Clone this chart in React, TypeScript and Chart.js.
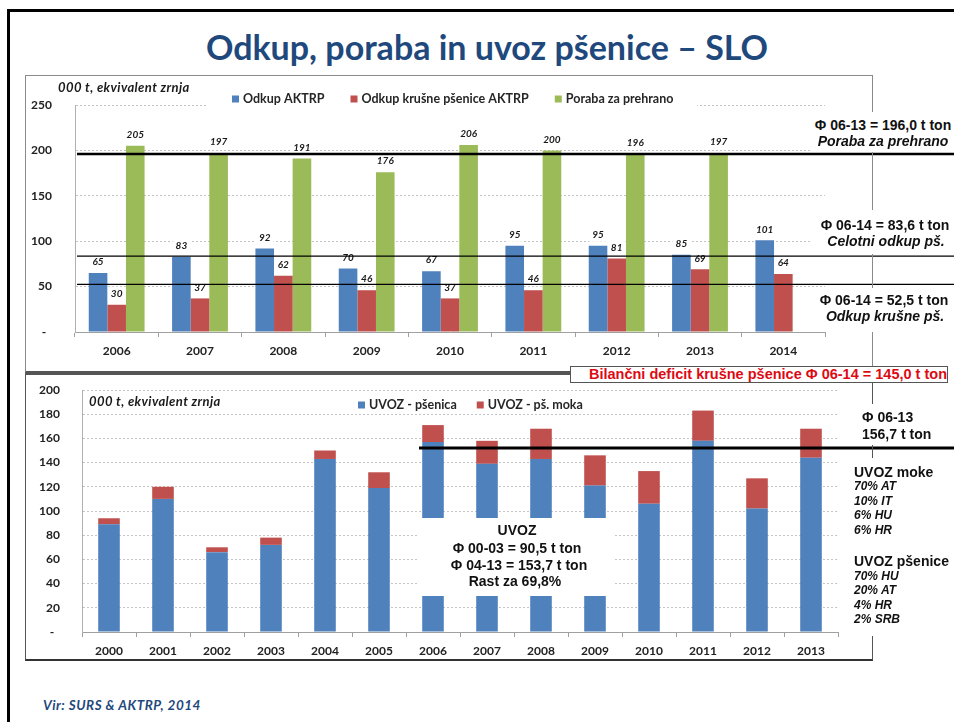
import React, { useEffect, useRef } from 'react';
import { Chart, registerables } from 'chart.js';

Chart.register(...registerables);

// ---------- DATA ----------
const TOP_YEARS = ['2006', '2007', '2008', '2009', '2010', '2011', '2012', '2013', '2014'];
const ODKUP_AKTRP = [65, 83, 92, 70, 67, 95, 95, 85, 101];
const ODKUP_KRUSNE = [30, 37, 62, 46, 37, 46, 81, 69, 64];
const PORABA = [205, 197, 191, 176, 206, 200, 196, 197, null];
const TOP_REF_LINES = [196.0, 83.6, 52.5];

const BOTTOM_YEARS = ['2000', '2001', '2002', '2003', '2004', '2005', '2006', '2007', '2008', '2009', '2010', '2011', '2012', '2013'];
const UVOZ_PSENICA = [89, 110, 66, 72, 143, 119, 157, 139, 143, 121, 106, 158, 102, 144];
const UVOZ_MOKA = [5, 10, 4, 6, 7, 13, 14, 19, 25, 25, 27, 25, 25, 24];
const BOTTOM_REF_LINE = 152;
const BOTTOM_REF_START_INDEX = 6;

const BLUE = '#4F81BD';
const RED = '#C0504D';
const GREEN = '#9BBB59';
const TICK_FONT = { family: 'Lato', size: 12, weight: 'bold' as const };

function drawLegend(chart: any, x0: number, yc: number, gap: number) {
  const ctx = chart.ctx;
  ctx.save();
  ctx.font = 'bold 12.5px Lato';
  ctx.textBaseline = 'middle';
  ctx.textAlign = 'left';
  let x = x0;
  chart.data.datasets.forEach((ds: any) => {
    ctx.fillStyle = ds.backgroundColor;
    ctx.fillRect(x, yc - 3.5, 7, 7);
    x += 11;
    ctx.fillStyle = '#262626';
    ctx.fillText(ds.label, x, yc);
    x += ctx.measureText(ds.label).width + gap;
  });
  ctx.restore();
}

const topPlugin = {
  id: 'topExtras',
  afterDatasetsDraw(chart: any) {
    const ctx = chart.ctx;
    ctx.save();
    ctx.font = 'italic bold 10px Lato';
    ctx.textAlign = 'center';
    ctx.textBaseline = 'middle';
    chart.data.datasets.forEach((ds: any, di: number) => {
      const meta = chart.getDatasetMeta(di);
      meta.data.forEach((bar: any, i: number) => {
        const v = ds.data[i];
        if (v == null) return;
        const txt = String(v);
        const w = ctx.measureText(txt).width;
        const x = bar.x;
        const y = bar.y - 11;
        ctx.fillStyle = '#fff';
        ctx.fillRect(x - w / 2 - 3, y - 7, w + 6, 14);
        ctx.fillStyle = '#1a1a1a';
        ctx.fillText(txt, x, y);
      });
    });
    const ys = chart.scales.y;
    TOP_REF_LINES.forEach((v, k) => {
      const y = ys.getPixelForValue(v);
      ctx.beginPath();
      ctx.lineWidth = k === 0 ? 2.5 : 1.4;
      ctx.strokeStyle = '#000';
      ctx.moveTo(chart.chartArea.left + 2, y);
      ctx.lineTo(chart.width, y);
      ctx.stroke();
    });
    ctx.restore();
  },
  afterDraw(chart: any) {
    const ctx = chart.ctx;
    ctx.save();
    ctx.fillStyle = '#fff';
    ctx.fillRect(182, 15, 490, 20);
    ctx.restore();
    drawLegend(chart, 207, 24, 26);
  },
};

const bottomPlugin = {
  id: 'bottomExtras',
  afterDatasetsDraw(chart: any) {
    const ctx = chart.ctx;
    const xs = chart.scales.x;
    const ys = chart.scales.y;
    const y = ys.getPixelForValue(BOTTOM_REF_LINE);
    ctx.save();
    ctx.beginPath();
    ctx.lineWidth = 3;
    ctx.strokeStyle = '#000';
    ctx.moveTo(xs.getPixelForValue(BOTTOM_REF_START_INDEX) - 14, y);
    ctx.lineTo(chart.width, y);
    ctx.stroke();
    ctx.restore();
  },
  afterDraw(chart: any) {
    drawLegend(chart, 333, 31, 20);
  },
};

function TopChart() {
  const ref = useRef<HTMLCanvasElement>(null);
  useEffect(() => {
    const chart = new Chart(ref.current!, {
      type: 'bar',
      data: {
        labels: TOP_YEARS,
        datasets: [
          { label: 'Odkup AKTRP', data: ODKUP_AKTRP, backgroundColor: BLUE },
          { label: 'Odkup krušne pšenice AKTRP', data: ODKUP_KRUSNE, backgroundColor: RED },
          { label: 'Poraba za prehrano', data: PORABA as any, backgroundColor: GREEN },
        ],
      },
      options: {
        responsive: false,
        maintainAspectRatio: false,
        animation: false,
        devicePixelRatio: 1,
        layout: { padding: { left: 0, right: 129, top: 30, bottom: 0 } },
        datasets: { bar: { barPercentage: 1, categoryPercentage: 0.67 } },
        plugins: { legend: { display: false }, tooltip: { enabled: false }, title: { display: false } },
        scales: {
          x: {
            grid: { offset: true, drawOnChartArea: false, drawTicks: true, tickLength: 5, color: '#a0a0a0' },
            border: { color: '#a0a0a0' },
            ticks: { font: TICK_FONT, color: '#222', padding: 7 },
            afterFit: (s: any) => { s.height = 41; },
          },
          y: {
            min: 0,
            max: 250,
            grid: { color: '#c4c4c4', drawTicks: true, tickLength: 23, tickColor: 'rgba(0,0,0,0)' },
            border: { color: '#b0b0b0', dash: [2, 2] },
            ticks: {
              stepSize: 50,
              font: TICK_FONT,
              color: '#222',
              padding: 0,
              callback: (v: any) => (v === 0 ? '-  ' : String(v)),
            },
            afterFit: (s: any) => { s.width = 50; },
          },
        },
      },
      plugins: [topPlugin],
    } as any);
    return () => chart.destroy();
  }, []);
  return (
    <canvas
      ref={ref}
      width={929}
      height={298}
      style={{ position: 'absolute', left: 25, top: 75, width: 929, height: 298 }}
    />
  );
}

function BottomChart() {
  const ref = useRef<HTMLCanvasElement>(null);
  useEffect(() => {
    const chart = new Chart(ref.current!, {
      type: 'bar',
      data: {
        labels: BOTTOM_YEARS,
        datasets: [
          { label: 'UVOZ - pšenica', data: UVOZ_PSENICA, backgroundColor: BLUE },
          { label: 'UVOZ - pš. moka', data: UVOZ_MOKA, backgroundColor: RED },
        ],
      },
      options: {
        responsive: false,
        maintainAspectRatio: false,
        animation: false,
        devicePixelRatio: 1,
        layout: { padding: { left: 0, right: 116, top: 16, bottom: 0 } },
        datasets: { bar: { barPercentage: 0.4, categoryPercentage: 1 } },
        plugins: { legend: { display: false }, tooltip: { enabled: false }, title: { display: false } },
        scales: {
          x: {
            stacked: true,
            grid: { offset: true, drawOnChartArea: false, drawTicks: true, tickLength: 5, color: '#a0a0a0' },
            border: { color: '#a0a0a0' },
            ticks: { font: TICK_FONT, color: '#222', padding: 7 },
            afterFit: (s: any) => { s.height = 29; },
          },
          y: {
            stacked: true,
            min: 0,
            max: 200,
            grid: { color: '#c4c4c4', drawTicks: true, tickLength: 22, tickColor: 'rgba(0,0,0,0)' },
            border: { color: '#b0b0b0', dash: [2, 2] },
            ticks: {
              stepSize: 20,
              font: TICK_FONT,
              color: '#222',
              padding: 0,
              callback: (v: any) => (v === 0 ? '-  ' : String(v)),
            },
            afterFit: (s: any) => { s.width = 57; },
          },
        },
      },
      plugins: [bottomPlugin],
    } as any);
    return () => chart.destroy();
  }, []);
  return (
    <canvas
      ref={ref}
      width={929}
      height={287}
      style={{ position: 'absolute', left: 25, top: 374, width: 929, height: 287 }}
    />
  );
}

const ARIAL = '"Liberation Sans", Arial, sans-serif';

function Txt(props: { x: number; y: number; text: string; font: string; color?: string; center?: boolean; spacing?: number }) {
  const { x, y, text, font, color = '#111', center, spacing } = props;
  return (
    <div
      style={{
        position: 'absolute',
        left: x,
        top: y - 10,
        height: 20,
        lineHeight: '20px',
        font,
        color,
        whiteSpace: 'nowrap',
        letterSpacing: spacing ? `${spacing}px` : undefined,
        transform: center ? 'translateX(-50%)' : undefined,
      }}
    >
      {text}
    </div>
  );
}

function WhiteRect(props: { x: number; y: number; w: number; h: number }) {
  return (
    <div style={{ position: 'absolute', left: props.x, top: props.y, width: props.w, height: props.h, background: '#fff' }} />
  );
}

export default function App() {
  const B14 = `bold 14px ${ARIAL}`;
  const BI14 = `italic bold 14px ${ARIAL}`;
  const BI12 = `italic bold 12px ${ARIAL}`;
  return (
    <div
      style={{
        position: 'absolute',
        left: 0,
        top: 0,
        width: 954,
        height: 722,
        background: '#fff',
        overflow: 'hidden',
        fontFamily: ARIAL,
      }}
    >
      {/* slide frame */}
      <div style={{ position: 'absolute', left: 7, top: 9, width: 947, height: 3, background: '#000' }} />
      <div style={{ position: 'absolute', left: 7, top: 9, width: 3, height: 713, background: '#000' }} />

      {/* title */}
      <div
        style={{
          position: 'absolute',
          left: 187,
          top: 27,
          width: 600,
          textAlign: 'center',
          font: 'bold 34px Lato',
          color: '#1F497D',
          lineHeight: '40px',
          whiteSpace: 'nowrap',
        }}
      >
        Odkup, poraba in uvoz pšenice – SLO
      </div>

      <TopChart />
      <BottomChart />

      {/* chart boxes */}
      <div style={{ position: 'absolute', left: 25, top: 75, width: 848, height: 298, border: '1px solid #8a8a8a', boxSizing: 'border-box', borderBottom: '2px solid #555' }} />
      <div style={{ position: 'absolute', left: 25, top: 373, width: 848, height: 288, border: '1px solid #555', borderBottom: '2px solid #333', borderTop: '2px solid #555', boxSizing: 'border-box' }} />

      {/* unit labels */}
      <Txt x={58} y={89} text="000 t, ekvivalent zrnja" font="italic bold 13px Lato" color="#1a1a1a" spacing={0.4} />
      <Txt x={89} y={403} text="000 t, ekvivalent zrnja" font="italic bold 13px Lato" color="#1a1a1a" spacing={0.4} />

      {/* top right notes */}
      <WhiteRect x={812} y={112} w={142} h={40} />
      <Txt x={883} y={127} text="Φ 06-13 = 196,0 t ton" font={B14} center />
      <Txt x={883} y={143} text="Poraba za prehrano" font={BI14} center />
      <WhiteRect x={812} y={210} w={142} h={44} />
      <Txt x={885} y={227} text="Φ 06-14 = 83,6 t ton" font={B14} center />
      <Txt x={886} y={243} text="Celotni odkup pš." font={BI14} center />
      <WhiteRect x={812} y={288} w={142} h={44} />
      <Txt x={884} y={302} text="Φ 06-14 = 52,5 t ton" font={B14} center />
      <Txt x={885} y={318} text="Odkup krušne pš." font={BI14} center />

      {/* red deficit box */}
      <div
        style={{
          position: 'absolute',
          left: 570,
          top: 366,
          width: 378,
          height: 17,
          background: '#fff',
          border: '1.5px solid #555',
          boxSizing: 'border-box',
          overflow: 'hidden',
          textAlign: 'right',
          font: `bold 14.5px ${ARIAL}`,
          lineHeight: '14px',
          color: '#DD0A14',
          whiteSpace: 'nowrap',
          paddingRight: 0,
        }}
      >
        Bilančni deficit krušne pšenice Φ 06-14 = 145,0 t ton
      </div>

      {/* bottom right notes */}
      <WhiteRect x={855} y={404} w={99} h={41} />
      <Txt x={862} y={419} text="Φ 06-13" font={B14} />
      <Txt x={862} y={436} text="156,7 t ton" font={B14} />
      <WhiteRect x={848} y={458} w={106} h={178} />
      <Txt x={854} y={474} text="UVOZ moke" font={B14} />
      <Txt x={854} y={489} text="70% AT" font={BI12} />
      <Txt x={854} y={504} text="10% IT" font={BI12} />
      <Txt x={854} y={518} text="6% HU" font={BI12} />
      <Txt x={854} y={533} text="6% HR" font={BI12} />
      <Txt x={854} y={563} text="UVOZ pšenice" font={B14} />
      <Txt x={854} y={579} text="70% HU" font={BI12} />
      <Txt x={854} y={593} text="20% AT" font={BI12} />
      <Txt x={854} y={608} text="4% HR" font={BI12} />
      <Txt x={854} y={622} text="2% SRB" font={BI12} />

      {/* UVOZ box */}
      <WhiteRect x={419} y={518} w={196} h={78} />
      <Txt x={517} y={532} text="UVOZ" font={B14} center />
      <Txt x={517} y={550} text="Φ 00-03 = 90,5 t ton" font={B14} center />
      <Txt x={519} y={567} text="Φ 04-13 = 153,7 t ton" font={B14} center />
      <Txt x={515} y={583} text="Rast za 69,8%" font={B14} center />

      {/* footer */}
      <Txt x={43} y={707} text="Vir: SURS & AKTRP, 2014" font="italic bold 13.5px Lato" color="#1F497D" spacing={0.5} />
    </div>
  );
}
